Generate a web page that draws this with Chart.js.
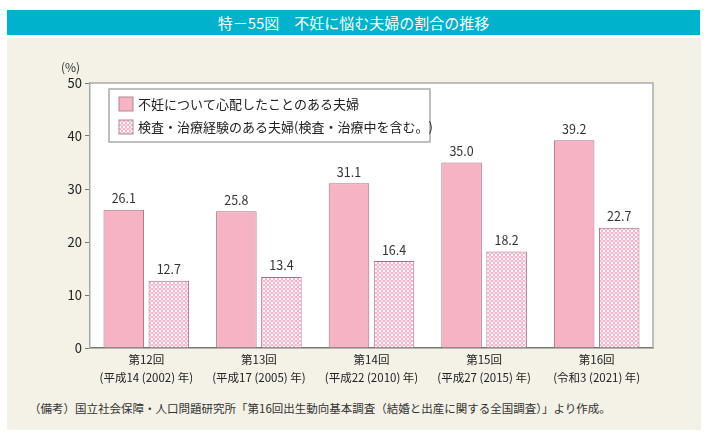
<!DOCTYPE html>
<html lang="ja">
<head>
<meta charset="utf-8">
<script src="https://cdn.jsdelivr.net/npm/chart.js@4"></script>
<style>
  body { margin: 0; background: #fff; font-family: "Noto Sans CJK JP", sans-serif; }
  #title {
    position: absolute; left: 7px; top: 10px; width: 693px; height: 25px;
    background: #00b2cb; color: #fff; font-size: 15px; line-height: 25px; text-align: center;
  }
  #panel {
    position: absolute; left: 7px; top: 38px; width: 694px; height: 392px; background: #f4f1e6;
  }
  #wrap { position: absolute; left: 0; top: 0; width: 694px; height: 360px; }
  #note {
    position: absolute; left: 22px; top: 362px; font-size: 11.5px; color: #333;
    font-family: "Noto Sans CJK JP", serif;
  }
</style>
</head>
<body>
<div id="title">特－55図　不妊に悩む夫婦の割合の推移</div>
<div id="panel">
  <div id="wrap"><canvas id="chart"></canvas></div>
  <div id="note">（備考）国立社会保障・人口問題研究所「第16回出生動向基本調査（結婚と出産に関する全国調査）」より作成。</div>
</div>
<script>
const categories = [
  ['第12回', '(平成14 (2002) 年)'],
  ['第13回', '(平成17 (2005) 年)'],
  ['第14回', '(平成22 (2010) 年)'],
  ['第15回', '(平成27 (2015) 年)'],
  ['第16回', '(令和3 (2021) 年)']
];
const worried = [26.1, 25.8, 31.1, 35.0, 39.2];
const treated = [12.7, 13.4, 16.4, 18.2, 22.7];
const seriesNames = [
  '不妊について心配したことのある夫婦',
  '検査・治療経験のある夫婦(検査・治療中を含む。)'
];

function makePattern() {
  const c = document.createElement('canvas');
  c.width = 4; c.height = 4;
  const g = c.getContext('2d');
  g.fillStyle = '#f6b6cc';
  g.fillRect(0, 0, 4, 4);
  g.fillStyle = '#ffffff';
  g.fillRect(0, 0, 2, 2);
  g.fillStyle = '#fbdbe6';
  g.fillRect(2, 2, 2, 2);
  return g.createPattern(c, 'repeat');
}
const checker = makePattern();

const framePlugin = {
  id: 'frame',
  beforeDraw(chart) {
    const { ctx, chartArea: a } = chart;
    ctx.save();
    ctx.fillStyle = '#ffffff';
    ctx.fillRect(a.left, a.top, a.right - a.left, a.bottom - a.top);
    ctx.restore();
  },
  afterDraw(chart) {
    const { ctx, chartArea: a } = chart;
    ctx.save();
    ctx.strokeStyle = '#aaaaaa';
    ctx.lineWidth = 1.5;
    ctx.beginPath();
    ctx.moveTo(a.left, a.top);
    ctx.lineTo(a.right, a.top);
    ctx.lineTo(a.right, a.bottom);
    ctx.stroke();
    // unit label
    ctx.fillStyle = '#333';
    ctx.font = '12px "Noto Sans CJK JP"';
    ctx.textAlign = 'left';
    ctx.textBaseline = 'middle';
    ctx.fillText('(%)', a.left - 29, a.top - 16);
    // value labels
    ctx.font = '12.5px "Noto Sans CJK JP"';
    ctx.textAlign = 'center';
    ctx.textBaseline = 'bottom';
    chart.data.datasets.forEach((ds, i) => {
      chart.getDatasetMeta(i).data.forEach((bar, j) => {
        ctx.fillText(ds.data[j].toFixed(1), bar.x, bar.y - 5);
      });
    });
    // legend box
    const lx = a.left + 19, ly = a.top + 6, lw = 321, lh = 53;
    ctx.fillStyle = '#ffffff';
    ctx.fillRect(lx, ly, lw, lh);
    ctx.strokeStyle = '#aaaaaa';
    ctx.lineWidth = 1.5;
    ctx.strokeRect(lx, ly, lw, lh);
    ctx.font = '13px "Noto Sans CJK JP"';
    ctx.textAlign = 'left';
    ctx.textBaseline = 'middle';
    chart.data.datasets.forEach((ds, i) => {
      const y = ly + 15 + i * 23;
      ctx.fillStyle = ds.backgroundColor;
      ctx.fillRect(lx + 10, y - 7, 14, 14);
      ctx.strokeStyle = '#b08a96';
      ctx.lineWidth = 1;
      ctx.strokeRect(lx + 10, y - 7, 14, 14);
      ctx.fillStyle = '#222';
      ctx.fillText(ds.label, lx + 29, y);
    });
    ctx.restore();
  }
};

const ctx = document.getElementById('chart').getContext('2d');
new Chart(ctx, {
  type: 'bar',
  data: {
    labels: categories,
    datasets: [{
      label: seriesNames[0],
      data: worried,
      backgroundColor: '#f5b3c3',
      borderColor: '#a87282',
      borderWidth: 1
    }, {
      label: seriesNames[1],
      data: treated,
      backgroundColor: checker,
      borderColor: '#a87282',
      borderWidth: 1
    }]
  },
  options: {
    responsive: true,
    maintainAspectRatio: false,
    animation: false,
    layout: { padding: { top: 45, right: 48, left: 0, bottom: 0 } },
    scales: {
      x: {
        grid: { display: false },
        border: { color: '#777', width: 1.5 },
        categoryPercentage: 0.8,
        barPercentage: 1.0,
        ticks: {
          color: '#222',
          font: { size: 11.5, family: '"Noto Sans CJK JP"', lineHeight: 1.55 },
          maxRotation: 0,
          padding: -5
        },
        afterFit(scale) { scale.height = 50; }
      },
      y: {
        min: 0,
        max: 50,
        ticks: {
          stepSize: 10,
          color: '#222',
          font: { size: 13, family: '"Noto Sans CJK JP"' },
          padding: 3
        },
        grid: { drawOnChartArea: false, tickLength: 5, color: '#777' },
        border: { color: '#aaaaaa', width: 1.5 },
        afterFit(scale) { scale.width = 83; }
      }
    },
    plugins: {
      legend: { display: false },
      tooltip: { enabled: false }
    }
  },
  plugins: [framePlugin]
});
</script>
</body>
</html>
